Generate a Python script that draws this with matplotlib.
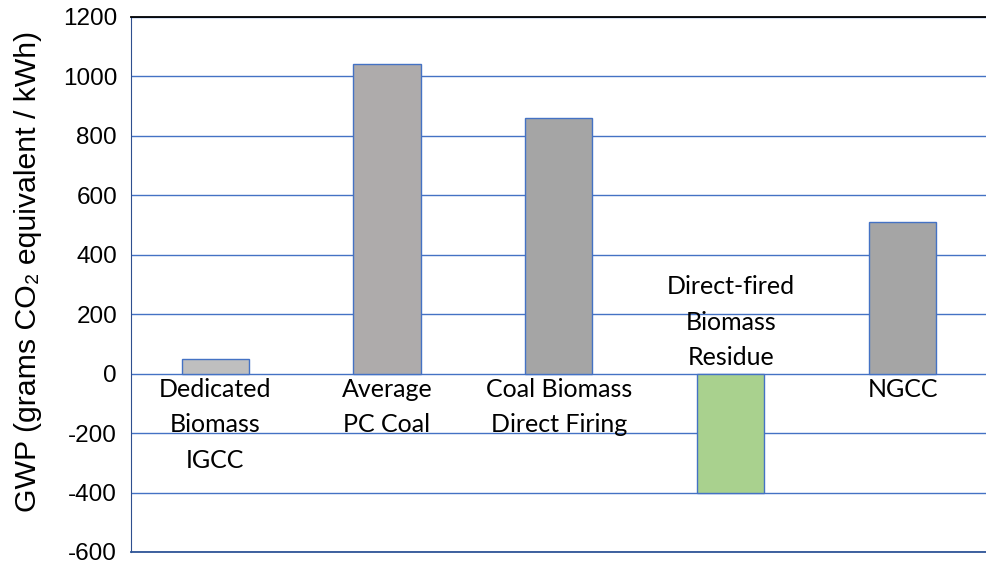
import matplotlib
matplotlib.use("Agg")
import matplotlib.pyplot as plt

categories = ["Dedicated\nBiomass\nIGCC", "Average\nPC Coal", "Coal Biomass\nDirect Firing",
              "Direct-fired\nBiomass\nResidue", "NGCC"]
gwp = [50, 1040, 860, -400, 510]
bar_colors = ["#BFBFBF", "#AEABAB", "#A5A5A5", "#A9D18E", "#A5A5A5"]
yticks = [-600, -400, -200, 0, 200, 400, 600, 800, 1000, 1200]

fig = plt.figure(figsize=(9.87, 5.67), dpi=100)
ax = fig.add_axes([0.1327, 0.0265, 0.867, 0.944])

x = list(range(len(categories)))
ax.bar(x, gwp, width=0.39, color=bar_colors, edgecolor="#4472C4", linewidth=1.0, zorder=3)

ax.set_xlim(-0.49, len(categories) - 0.51)
ax.set_ylim(-600, 1200)
ax.set_yticks(yticks)
ax.set_yticklabels([str(t) for t in yticks], fontsize=17.5, family="Liberation Sans")
ax.tick_params(axis="y", length=0, pad=10)
ax.set_xticks([])
ax.yaxis.grid(True, color="#4472C4", linewidth=1.0, zorder=1)
ax.set_axisbelow(True)

ax.spines["right"].set_visible(False)
ax.spines["top"].set_color("black")
ax.spines["top"].set_linewidth(1.3)
ax.spines["left"].set_color("#2F4F8F")
ax.spines["bottom"].set_color("#2F5597")
ax.spines["bottom"].set_linewidth(1.3)

ax.set_ylabel("GWP (grams CO\u2082 equivalent / kWh)", fontsize=21.8,
              family=["Liberation Sans", "DejaVu Sans"], labelpad=15)
ax.yaxis.label.set_y(0.525)

# category labels sit inside the plot, on the opposite side of zero from the bar
for xi, lab, v in zip(x, categories, gwp):
    if v >= 0:
        ax.text(xi, -15, lab, ha="center", va="top", fontsize=18, family="Lato",
                linespacing=1.65, zorder=4)
    else:
        ax.text(xi, 15, lab, ha="center", va="bottom", fontsize=18, family="Lato",
                linespacing=1.65, zorder=4)

fig.savefig("out.png", dpi=100)
